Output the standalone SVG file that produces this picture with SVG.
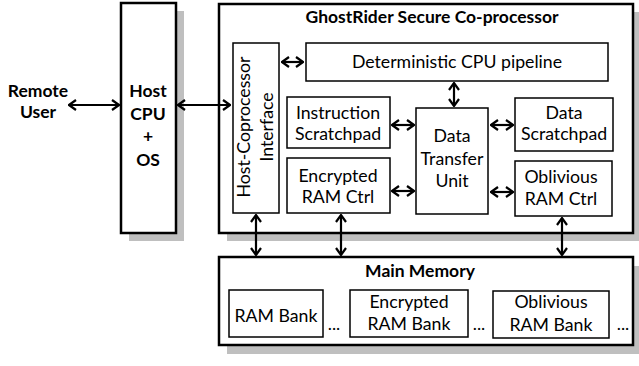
<svg xmlns="http://www.w3.org/2000/svg" width="639" height="366" viewBox="0 0 639 366">
<style>
  text { font-family: Lato, "Open Sans", "Liberation Sans", sans-serif; fill: #000; text-anchor: middle; }
  .t { font-size: 17.7px; }
  .b { font-size: 17.5px; font-weight: bold; }
  .shadow { fill: #bfbfbf; stroke: none; }
  .outer { fill: #fff; stroke: #000; stroke-width: 2.5; }
  .inner { fill: #fff; stroke: #000; stroke-width: 1.5; }
  .conn { stroke: #000; stroke-width: 2.2; fill: none; marker-start: url(#ah); marker-end: url(#ah); }
</style>
<defs>
  <marker id="ah" viewBox="0 0 10 12" refX="9" refY="6" markerWidth="10" markerHeight="12" markerUnits="userSpaceOnUse" orient="auto-start-reverse">
    <path d="M2,1 L9,6 L2,11" fill="none" stroke="#000" stroke-width="2.2"/>
  </marker>
</defs>

<g id="remote-user">
  <text class="b" x="38" y="97">Remote</text>
  <text class="b" x="38" y="118">User</text>
</g>

<g id="host-cpu">
  <rect class="shadow" x="129" y="11" width="55" height="230"/>
  <rect class="outer" x="121" y="3" width="55" height="230"/>
  <text class="b" x="148" y="97">Host</text>
  <text class="b" x="148" y="120">CPU</text>
  <text class="b" x="148" y="142">+</text>
  <text class="b" x="148" y="166">OS</text>
</g>

<g id="coprocessor">
  <rect class="shadow" x="227" y="12" width="414" height="229"/>
  <rect class="outer" x="219" y="4" width="414" height="229"/>
  <text class="b" x="432" y="23">GhostRider Secure Co-processor</text>
</g>

<g id="main-memory">
  <rect class="shadow" x="227" y="266" width="414" height="88"/>
  <rect class="outer" x="219" y="257" width="414" height="88"/>
  <text class="b" x="420" y="277">Main Memory</text>
</g>

<g id="host-interface">
  <rect class="inner" x="233" y="43" width="46" height="170"/>
  <text class="t" transform="translate(250,127) rotate(-90)">Host-Coprocessor</text>
  <text class="t" transform="translate(273,127) rotate(-90)">Interface</text>
</g>

<g id="cpu-pipeline">
  <rect class="inner" x="306" y="43" width="302" height="38"/>
  <text class="t" x="457" y="68">Deterministic CPU pipeline</text>
</g>

<g id="instruction-scratchpad">
  <rect class="inner" x="287" y="97" width="103" height="51"/>
  <text class="t" x="338" y="119">Instruction</text>
  <text class="t" x="338" y="140">Scratchpad</text>
</g>

<g id="data-transfer-unit">
  <rect class="inner" x="416" y="108" width="72" height="106"/>
  <text class="t" x="452" y="142">Data</text>
  <text class="t" x="452" y="165">Transfer</text>
  <text class="t" x="452" y="187">Unit</text>
</g>

<g id="data-scratchpad">
  <rect class="inner" x="515" y="98" width="98" height="53"/>
  <text class="t" x="564" y="119">Data</text>
  <text class="t" x="564" y="140">Scratchpad</text>
</g>

<g id="encrypted-ram-ctrl">
  <rect class="inner" x="287" y="158" width="103" height="55"/>
  <text class="t" x="338" y="182">Encrypted</text>
  <text class="t" x="338" y="203">RAM Ctrl</text>
</g>

<g id="oblivious-ram-ctrl">
  <rect class="inner" x="515" y="161" width="97" height="55"/>
  <text class="t" x="561" y="183">Oblivious</text>
  <text class="t" x="561" y="205">RAM Ctrl</text>
</g>

<g id="ram-bank">
  <rect class="inner" x="229" y="290" width="94" height="47"/>
  <text class="t" x="276" y="322">RAM Bank</text>
</g>

<g id="encrypted-ram-bank">
  <rect class="inner" x="350" y="290" width="118" height="47"/>
  <text class="t" x="409" y="308">Encrypted</text>
  <text class="t" x="409" y="330">RAM Bank</text>
</g>

<g id="oblivious-ram-bank">
  <rect class="inner" x="493" y="291" width="116" height="47"/>
  <text class="t" x="551" y="308">Oblivious</text>
  <text class="t" x="551" y="331">RAM Bank</text>
</g>

<g id="ellipses">
  <text class="t" x="334" y="330">...</text>
  <text class="t" x="479" y="330">...</text>
  <text class="t" x="623" y="330">...</text>
</g>

<g id="connectors">
  <line class="conn" x1="69" y1="105" x2="119" y2="105"/>
  <line class="conn" x1="178" y1="105" x2="230" y2="105"/>
  <line class="conn" x1="282" y1="62" x2="303" y2="62"/>
  <line class="conn" x1="454" y1="83" x2="454" y2="106"/>
  <line class="conn" x1="392" y1="125" x2="414" y2="125"/>
  <line class="conn" x1="491" y1="125" x2="513" y2="125"/>
  <line class="conn" x1="392" y1="191" x2="414" y2="191"/>
  <line class="conn" x1="491" y1="192" x2="513" y2="192"/>
  <line class="conn" x1="256" y1="215" x2="256" y2="255"/>
  <line class="conn" x1="341" y1="215" x2="341" y2="255"/>
  <line class="conn" x1="562" y1="218" x2="562" y2="255"/>
</g>
</svg>
